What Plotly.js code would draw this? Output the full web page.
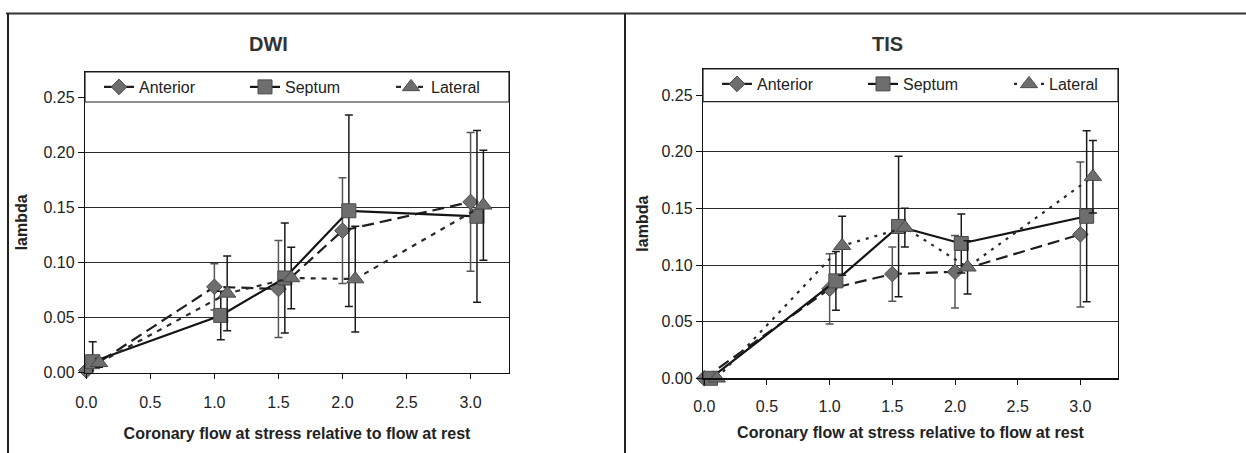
<!DOCTYPE html>
<html>
<head>
<meta charset="utf-8">
<script src="https://cdn.plot.ly/plotly-3.0.1.min.js"></script>
<style>
html,body{margin:0;padding:0;background:#fff;}
#chart{width:1246px;height:453px;}
</style>
</head>
<body>
<div id="chart"></div>
<script>
// ---- data ----
const flow = [0.0, 1.0, 1.5, 2.0, 3.0];
const xTickVals = [0, 0.5, 1.0, 1.5, 2.0, 2.5, 3.0];
const xTickText = ["0.0", "0.5", "1.0", "1.5", "2.0", "2.5", "3.0"];
const yTickVals = [0.00, 0.05, 0.10, 0.15, 0.20, 0.25];
const yTickText = ["0.00", "0.05", "0.10", "0.15", "0.20", "0.25"];
const seriesNames = ["Anterior", "Septum", "Lateral"];
const panelTitles = ["DWI", "TIS"];
const xTitle = "Coronary flow at stress relative to flow at rest";
const yTitle = "lambda";

// DWI
const dwiAnterior = [0.002, 0.078, 0.076, 0.129, 0.155];
const dwiAnteriorErr = [0.003, 0.021, 0.044, 0.048, 0.063];
const dwiSeptum = [0.010, 0.052, 0.086, 0.147, 0.142];
const dwiSeptumErr = [0.018, 0.022, 0.050, 0.087, 0.078];
const dwiLateral = [0.009, 0.072, 0.086, 0.085, 0.152];
const dwiLateralErr = [0.004, 0.034, 0.028, 0.048, 0.050];

// TIS
const tisAnterior = [0.000, 0.079, 0.092, 0.094, 0.127];
const tisAnteriorErr = [0.000, 0.031, 0.024, 0.032, 0.064];
const tisSeptum = [0.000, 0.086, 0.134, 0.119, 0.143];
const tisSeptumErr = [0.000, 0.026, 0.062, 0.026, 0.0755];
const tisLateral = [0.000, 0.117, 0.133, 0.098, 0.178];
const tisLateralErr = [0.000, 0.026, 0.017, 0.0235, 0.032];

// ---- styles ----
const W = 1246, H = 453;
const FONT = "Liberation Sans, Arial, sans-serif";
const offsets = [0.0, 0.05, 0.1];
const markerFill = "#6e6e6e";
const styles = [
  {symbol: "diamond", size: 12, dash: "12px,6px", lineColor: "#1e1e1e", errColor: "#555555"},
  {symbol: "square", size: 14, dash: "solid", lineColor: "#141414", errColor: "#1a1a1a"},
  {symbol: "triangle-up", size: 15, dash: "5px,6px", lineColor: "#2a2a2a", errColor: "#1a1a1a"}
];

function makeTrace(i, y, err, xa, ya, legendId, lateralDash) {
  const s = styles[i];
  return {
    type: "scatter",
    mode: "lines+markers",
    name: seriesNames[i],
    x: flow.map(v => v + offsets[i]),
    y: y,
    xaxis: xa, yaxis: ya,
    legend: legendId,
    line: {color: s.lineColor, width: 2.2, dash: lateralDash || s.dash},
    marker: {symbol: s.symbol, size: s.size, color: markerFill, line: {color: "#4a4a4a", width: 1}},
    error_y: {type: "data", array: err, visible: true, color: s.errColor, thickness: 1.5, width: 4},
    cliponaxis: false
  };
}

const traces = [
  makeTrace(0, dwiAnterior, dwiAnteriorErr, "x", "y", "legend"),
  makeTrace(1, dwiSeptum, dwiSeptumErr, "x", "y", "legend"),
  makeTrace(2, dwiLateral, dwiLateralErr, "x", "y", "legend"),
  makeTrace(0, tisAnterior, tisAnteriorErr, "x2", "y2", "legend2"),
  makeTrace(1, tisSeptum, tisSeptumErr, "x2", "y2", "legend2"),
  makeTrace(2, tisLateral, tisLateralErr, "x2", "y2", "legend2", "3px,6px")
];

// panel geometry in pixels
const P1 = {l: 85, r: 509, t: 72, b: 372.7};
const P2 = {l: 703, r: 1118, t: 69, b: 378.3};
const dx = p => [p.l / W, p.r / W];
const dy = p => [1 - p.b / H, 1 - p.t / H];

function xAxis(p, tickStandoff, titleStandoff) {
  return {
    domain: dx(p), range: [-0.01, 3.3], tickvals: xTickVals, ticktext: xTickText,
    showgrid: false, zeroline: false, showline: true, mirror: true,
    linecolor: "#111", linewidth: 1.2, ticks: "outside", ticklen: 5, tickcolor: "#111",
    ticklabelstandoff: tickStandoff,
    tickfont: {family: FONT, size: 16, color: "#222"},
    title: {text: xTitle, font: {family: FONT, size: 16, color: "#222", weight: "bold"}, standoff: titleStandoff},
    automargin: false
  };
}
function yAxis(p, anchor, titleStandoff) {
  return {
    domain: dy(p), range: [0, 0.273], tickvals: yTickVals, ticktext: yTickText,
    showgrid: true, gridcolor: "#2a2a2a", gridwidth: 1, zeroline: false,
    showline: true, mirror: true, linecolor: "#111", linewidth: 1.2,
    ticks: "outside", ticklen: 6, tickcolor: "#111",
    tickfont: {family: FONT, size: 16, color: "#222"},
    title: {text: yTitle, font: {family: FONT, size: 16, color: "#222", weight: "bold"}, standoff: titleStandoff},
    anchor: anchor, automargin: false
  };
}

function legendAt(p) {
  return {
    orientation: "h",
    x: (p.l + 14) / W, xanchor: "left",
    y: 1 - (p.t + 15) / H, yanchor: "middle",
    bgcolor: "rgba(0,0,0,0)", borderwidth: 0,
    font: {family: FONT, size: 16, color: "#222"},
    entrywidth: 101, entrywidthmode: "pixels",
    tracegroupgap: 0
  };
}

const layout = {
  width: W, height: H,
  margin: {l: 0, r: 0, t: 0, b: 0},
  paper_bgcolor: "#ffffff", plot_bgcolor: "#ffffff",
  showlegend: true,
  xaxis: Object.assign(xAxis(P1, 10, 17), {anchor: "y"}),
  yaxis: yAxis(P1, "x", 11),
  xaxis2: Object.assign(xAxis(P2, 8, 13), {anchor: "y2"}),
  yaxis2: yAxis(P2, "x2", 8),
  legend: legendAt(P1),
  legend2: legendAt(P2),
  annotations: [
    {text: "<b>" + panelTitles[0] + "</b>", xref: "paper", yref: "paper", x: 268 / W, y: 1 - 44 / H,
     xanchor: "center", yanchor: "middle", showarrow: false, font: {family: FONT, size: 20, color: "#333"}},
    {text: "<b>" + panelTitles[1] + "</b>", xref: "paper", yref: "paper", x: 887 / W, y: 1 - 44 / H,
     xanchor: "center", yanchor: "middle", showarrow: false, font: {family: FONT, size: 20, color: "#333"}}
  ],
  shapes: [
    // outer frame lines
    {type: "line", xref: "paper", yref: "paper", x0: 6 / W, x1: 1, y0: 1 - 13.5 / H, y1: 1 - 13.5 / H, line: {color: "#333", width: 2}},
    {type: "line", xref: "paper", yref: "paper", x0: 8 / W, x1: 8 / W, y0: 0, y1: 1 - 13.5 / H, line: {color: "#222", width: 2}},
    {type: "line", xref: "paper", yref: "paper", x0: 625 / W, x1: 625 / W, y0: 0, y1: 1 - 13.5 / H, line: {color: "#222", width: 2}},
    // legend boxes
    {type: "rect", xref: "x domain", yref: "y domain", x0: 0, x1: 1, y0: (P1.b - 102) / (P1.b - P1.t), y1: 1,
     fillcolor: "#ffffff", line: {color: "#222", width: 1.2}, layer: "above"},
    {type: "rect", xref: "x2 domain", yref: "y2 domain", x0: 0, x1: 1, y0: (P2.b - 101.7) / (P2.b - P2.t), y1: 1,
     fillcolor: "#ffffff", line: {color: "#222", width: 1.2}, layer: "above"}
  ]
};

Plotly.newPlot("chart", traces, layout, {displayModeBar: false, staticPlot: true});
</script>
</body>
</html>
